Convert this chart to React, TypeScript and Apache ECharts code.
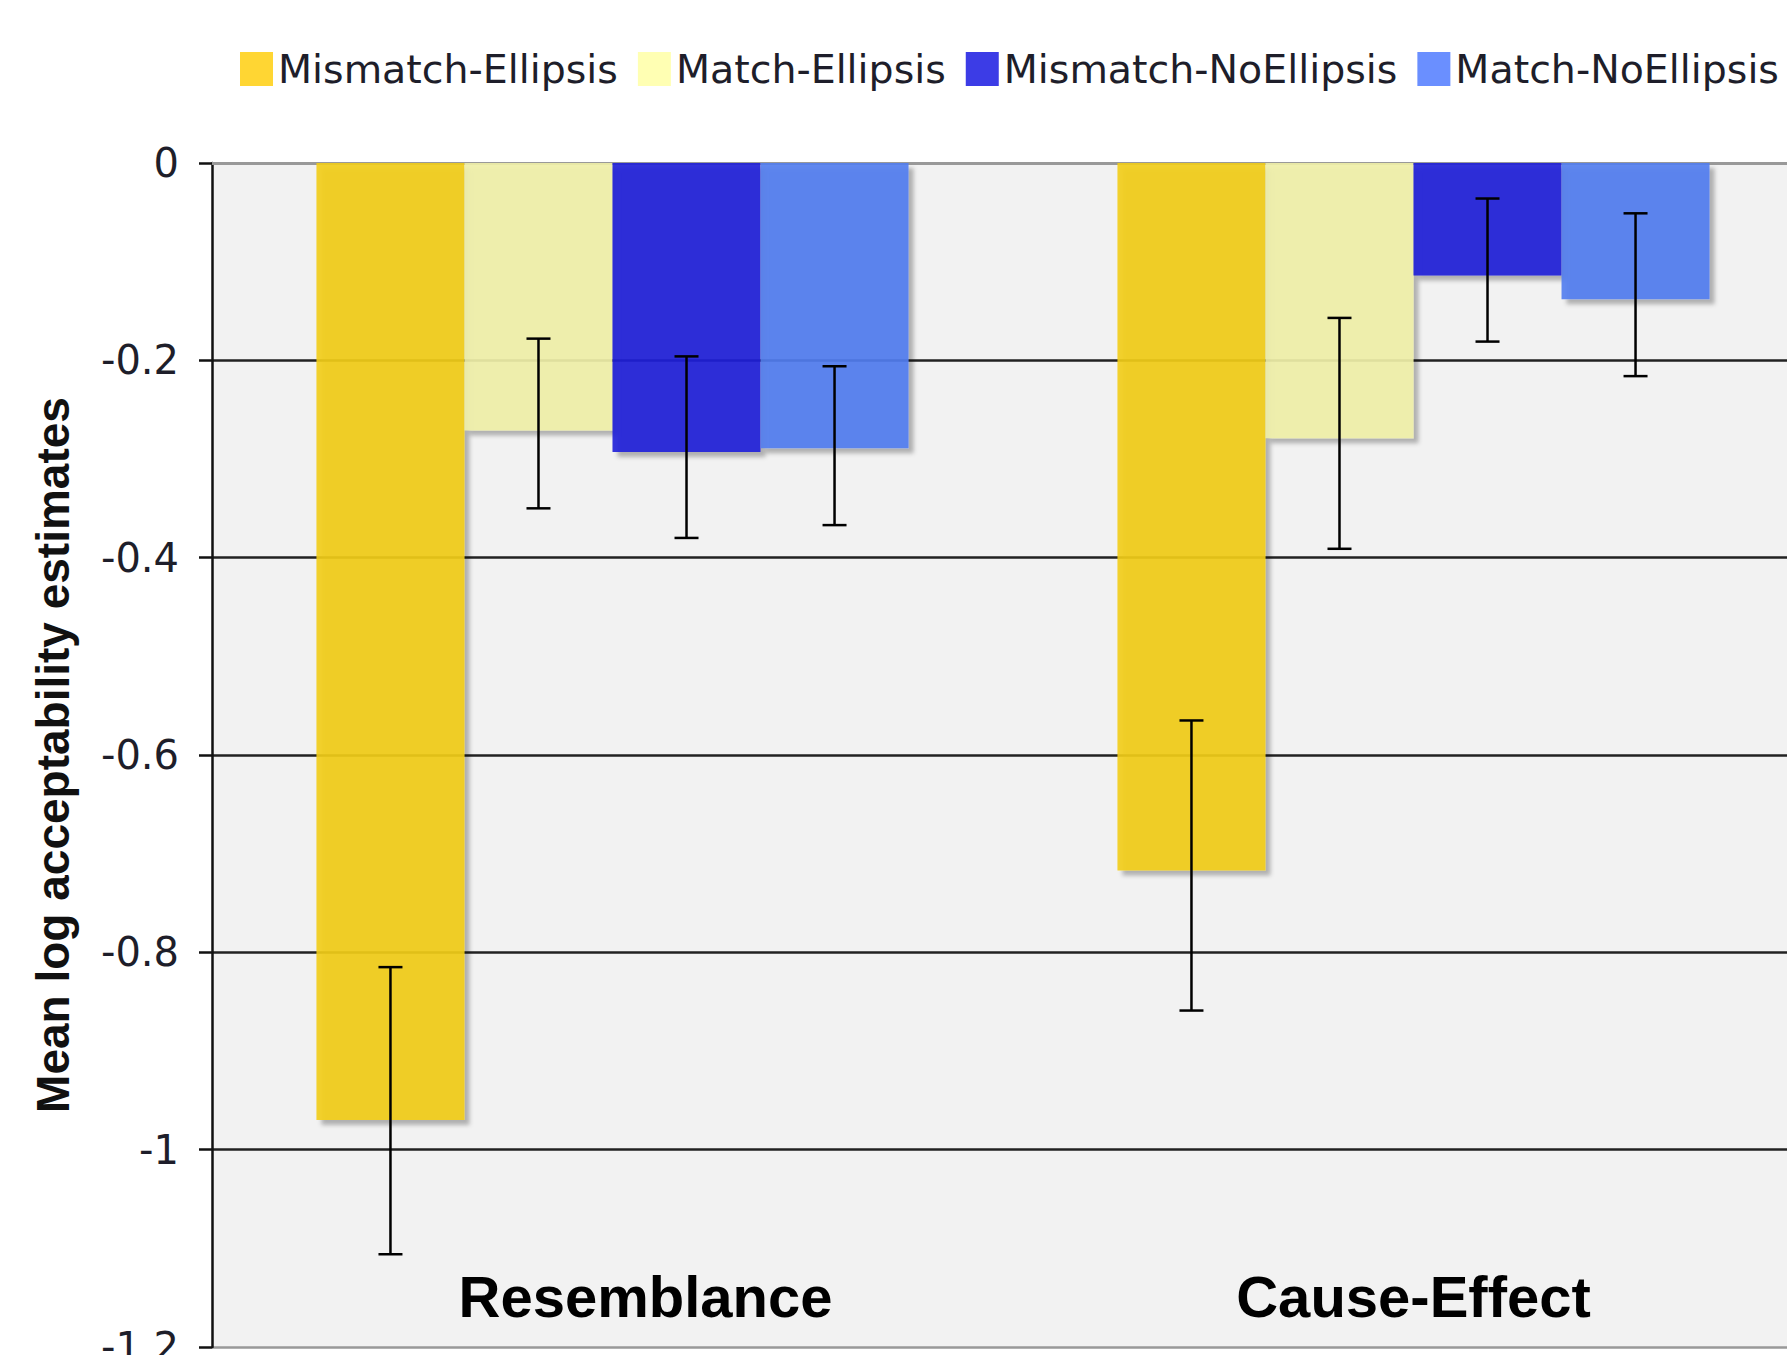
import React, { useEffect, useRef } from "react";
import * as echarts from "echarts";

const CATEGORIES = ["Resemblance", "Cause-Effect"];
const SERIES_NAMES = ["Mismatch-Ellipsis", "Match-Ellipsis", "Mismatch-NoEllipsis", "Match-NoEllipsis"];

const MISMATCH_ELLIPSIS = [-0.97, -0.717];
const MATCH_ELLIPSIS = [-0.271, -0.279];
const MISMATCH_NOELLIPSIS = [-0.293, -0.114];
const MATCH_NOELLIPSIS = [-0.289, -0.138];

const ERR_HIGH = [
  [-0.815, -0.565],
  [-0.178, -0.157],
  [-0.196, -0.036],
  [-0.206, -0.051],
];
const ERR_LOW = [
  [-1.106, -0.859],
  [-0.35, -0.391],
  [-0.38, -0.181],
  [-0.367, -0.216],
];

const Y_MIN = -1.2;
const Y_MAX = 0;
const Y_STEP = 0.2;

const BAR_COLORS = ["#F2CD18", "#F1F1A8", "#1E1CD8", "#527DF0"];
const LEGEND_COLORS = ["#FFD633", "#FFFFB3", "#3C3CE6", "#6A8FFF"];
const BAR_FRAC = 0.1848;

export default function App() {
  const ref = useRef<HTMLDivElement>(null);
  useEffect(() => {
    if (!ref.current) return;
    const chart = echarts.init(ref.current, undefined, { renderer: "svg" });
    const values = [MISMATCH_ELLIPSIS, MATCH_ELLIPSIS, MISMATCH_NOELLIPSIS, MATCH_NOELLIPSIS];
    const errData: number[][] = [];
    for (let k = 0; k < 4; k++) {
      for (let c = 0; c < CATEGORIES.length; c++) {
        errData.push([c, ERR_LOW[k][c], ERR_HIGH[k][c], k]);
      }
    }
    const barSeries = SERIES_NAMES.map((name, k) => ({
      name,
      type: "bar",
      data: values[k],
      barWidth: `${BAR_FRAC * 100}%`,
      barGap: "0%",
      itemStyle: {
        color: BAR_COLORS[k],
        opacity: 0.9,
        shadowColor: "rgba(0,0,0,0.3)",
        shadowBlur: 4,
        shadowOffsetX: 5,
        shadowOffsetY: 5,
      },
      z: 2 + k,
    }));
    const catData = CATEGORIES.map((c, i) =>
      i === 0 ? { value: c, textStyle: { padding: [0, 0, 0, 66] } } : { value: c }
    );
    const option: any = {
      animation: false,
      backgroundColor: "#ffffff",
      legend: {
        left: 240,
        top: 49,
        width: 1600,
        padding: 0,
        itemWidth: 33,
        itemHeight: 34,
        itemGap: 20,
        icon: "rect",
        textStyle: { fontSize: 39.5, fontFamily: "DejaVu Sans", color: "#1e1e2a" },
        data: SERIES_NAMES.map((n, k) => ({
          name: n,
          itemStyle: { color: LEGEND_COLORS[k], opacity: 1, shadowBlur: 0, shadowOffsetX: 0, shadowOffsetY: 0 },
        })),
      },
      grid: {
        left: 212,
        top: 163,
        width: 1602,
        height: 1184,
        show: true,
        backgroundColor: "#F2F2F2",
        borderWidth: 0,
        containLabel: false,
        outerBoundsMode: "none",
      },
      xAxis: {
        type: "category",
        data: catData,
        axisLine: { show: true, lineStyle: { color: "#999", width: 3 } },
        axisTick: { show: false },
        axisLabel: {
          inside: true,
          margin: 22,
          fontSize: 58,
          fontWeight: "bold",
          fontFamily: "Liberation Sans",
          color: "#000",
        },
        splitLine: { show: false },
      },
      yAxis: {
        type: "value",
        min: Y_MIN,
        max: Y_MAX,
        interval: Y_STEP,
        name: "Mean log acceptability estimates",
        nameLocation: "middle",
        nameRotate: 90,
        nameGap: 136,
        nameTextStyle: { fontSize: 46, fontWeight: "bold", fontFamily: "Liberation Sans", color: "#111" },
        axisLine: { show: true, lineStyle: { color: "#111", width: 2.5 } },
        axisTick: { show: true, length: 13, lineStyle: { color: "#111", width: 2.5 } },
        axisLabel: { margin: 33, fontSize: 40, fontFamily: "DejaVu Sans", color: "#1e1e2a" },
        splitLine: {
          show: true,
          lineStyle: { color: ["#999", "#222", "#222", "#222", "#222", "#222", "#666"], width: 2.5 },
        },
      },
      series: [
        ...barSeries,
        {
          name: "errors",
          type: "custom",
          z: 10,
          data: errData,
          renderItem: (params: any, api: any) => {
            const cat = api.value(0);
            const lo = api.value(1);
            const hi = api.value(2);
            const k = api.value(3);
            const bandW = api.size([1, 0])[0];
            const bw = bandW * BAR_FRAC;
            const pLo = api.coord([cat, lo]);
            const pHi = api.coord([cat, hi]);
            const x = pLo[0] + (k - 1.5) * bw;
            const cap = 12;
            const style = { stroke: "#000", lineWidth: 2.5 };
            return {
              type: "group",
              children: [
                { type: "line", shape: { x1: x, y1: pLo[1], x2: x, y2: pHi[1] }, style },
                { type: "line", shape: { x1: x - cap, y1: pLo[1], x2: x + cap, y2: pLo[1] }, style },
                { type: "line", shape: { x1: x - cap, y1: pHi[1], x2: x + cap, y2: pHi[1] }, style },
              ],
            };
          },
        },
      ],
    };
    chart.setOption(option);
    return () => chart.dispose();
  }, []);
  return (
    <div
      ref={ref}
      style={{ position: "fixed", left: 0, top: 0, width: 1787, height: 1355, background: "#fff" }}
    />
  );
}
